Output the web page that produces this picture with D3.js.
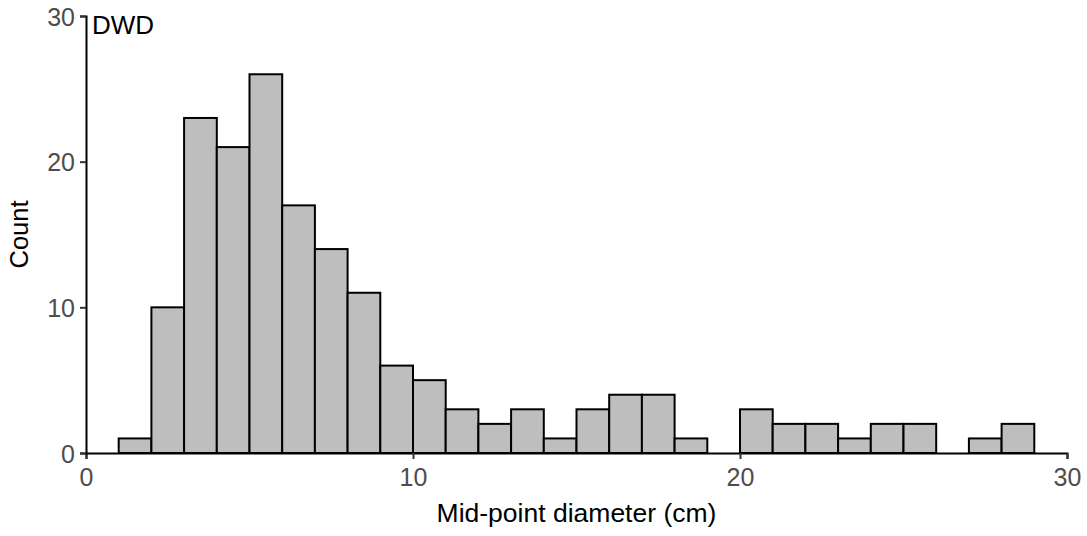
<!DOCTYPE html>
<html><head><meta charset="utf-8">
<script src="https://cdn.jsdelivr.net/npm/d3@7"></script>
<style>body{margin:0;background:#fff}</style>
</head><body>
<svg id="c" width="1087" height="536"></svg>
<script>
const binStarts = [1,2,3,4,5,6,7,8,9,10,11,12,13,14,15,16,17,18,19,20,21,22,23,24,25,26,27,28];
const counts    = [1,10,23,21,26,17,14,11,6,5,3,2,3,1,3,4,4,1,0,3,2,2,1,2,2,0,1,2];
const binWidth = 1;
const xTicks = [0,10,20,30];
const yTicks = [0,10,20,30];
const panelTag = "DWD";
const xTitle = "Mid-point diameter (cm)";
const yTitle = "Count";

const svg = d3.select("#c");
const x = d3.scaleLinear().domain([0,30]).range([86,1067]);
const y = d3.scaleLinear().domain([0,30]).range([453,16]);
const font = "'Liberation Sans', Arial, sans-serif";

const data = binStarts.map((s,i)=>({x0:s,x1:s+binWidth,n:counts[i]}));
svg.append("g").selectAll("rect").data(data).join("rect")
  .attr("x",d=>x(d.x0)).attr("width",d=>x(d.x1)-x(d.x0))
  .attr("y",d=>y(d.n)).attr("height",d=>y(0)-y(d.n))
  .attr("fill","#BEBEBE").attr("stroke","#000").attr("stroke-width",2);

const xa = svg.append("g").attr("transform",`translate(0,${y(0)})`)
  .call(d3.axisBottom(x).tickValues(xTicks).tickSize(6).tickPadding(4));
const ya = svg.append("g").attr("transform",`translate(${x(0)},0)`)
  .call(d3.axisLeft(y).tickValues(yTicks).tickSize(6).tickPadding(5));
[xa,ya].forEach(a=>{
  a.select(".domain").attr("stroke","#000").attr("stroke-width",2);
  a.selectAll(".tick line").attr("stroke","#333").attr("stroke-width",2);
  a.selectAll(".tick text").attr("fill","#4D4D4D").style("font-family",font).style("font-size","25px");
});
xa.selectAll(".tick text").attr("dy","0.9em");
ya.selectAll(".tick text").attr("dy","0.36em");

svg.append("text").attr("x",x(0)+6).attr("y",34).text(panelTag)
  .style("font-family",font).style("font-size","26px").attr("fill","#000");
svg.append("text").attr("x",(x(0)+x(30))/2).attr("y",522).attr("text-anchor","middle")
  .text(xTitle).style("font-family",font).style("font-size","26.5px");
svg.append("text").attr("transform",`translate(28,${(y(0)+y(30))/2}) rotate(-90)`)
  .attr("text-anchor","middle").text(yTitle).style("font-family",font).style("font-size","25.5px");
</script>
</body></html>
